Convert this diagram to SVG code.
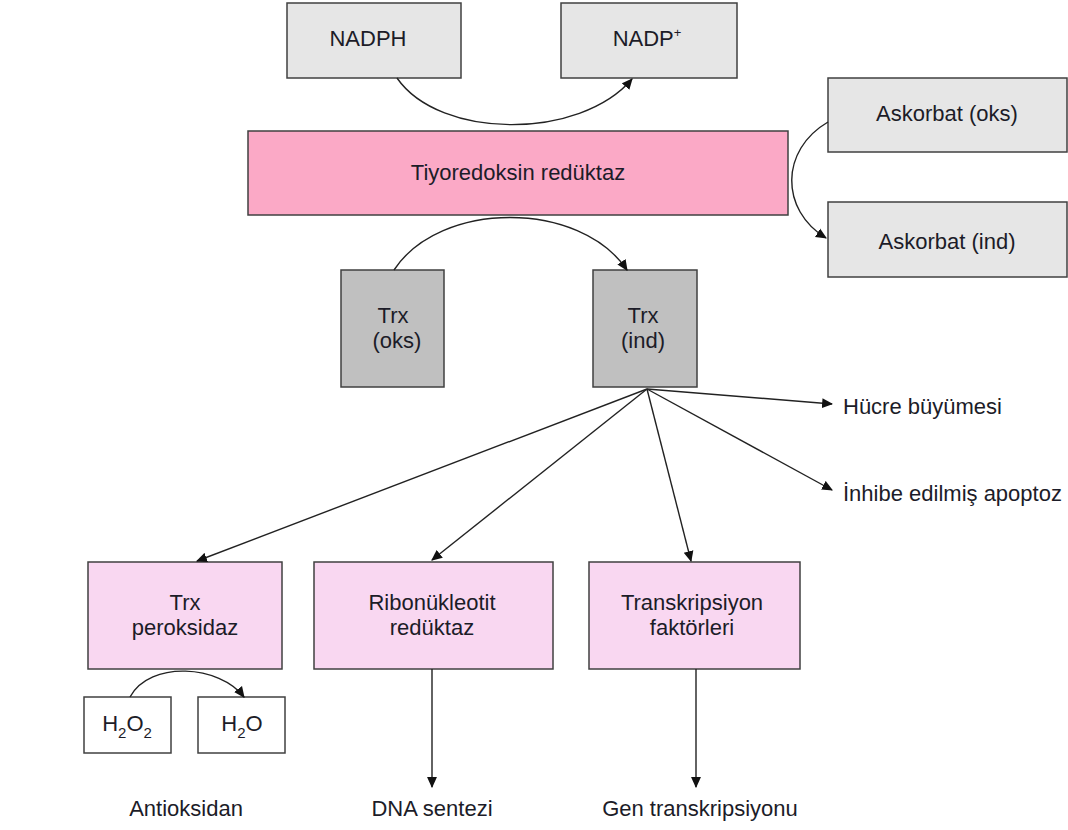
<svg xmlns="http://www.w3.org/2000/svg" width="1068" height="830" viewBox="0 0 1068 830">
<style>
text{font-family:"Liberation Sans",Arial,sans-serif;font-size:22px;fill:#1c1c28;text-anchor:middle}
.lbl{text-anchor:start}
.box{stroke:#404040;stroke-width:1.5}
.g1{fill:#e6e6e6}.g2{fill:#c0c0c0}.pk{fill:#fba9c6}.lp{fill:#f9d7f1}.wh{fill:#fff}
.c{fill:none;stroke:#222;stroke-width:1.4;marker-end:url(#ah)}
.sb{font-size:15px}
</style>
<defs>
<marker id="ah" viewBox="0 0 10 10" refX="9" refY="5" markerWidth="11" markerHeight="11" markerUnits="userSpaceOnUse" orient="auto">
<path d="M0,0.5 L10,5 L0,9.5 Z" fill="#111"/>
</marker>
</defs>
<rect width="1068" height="830" fill="#fff"/>
<g id="nadph"><rect class="box g1" x="287" y="3" width="174" height="75"/><text x="368" y="46">NADPH</text></g>
<g id="nadp"><rect class="box g1" x="561" y="3" width="176" height="75"/><text x="647" y="46">NADP<tspan font-size="13" dy="-9">+</tspan></text></g>
<g id="tr"><rect class="box pk" x="248" y="131" width="540" height="84"/><text x="518" y="180">Tiyoredoksin redüktaz</text></g>
<g id="askoks"><rect class="box g1" x="828" y="78" width="239" height="74"/><text x="947" y="121">Askorbat (oks)</text></g>
<g id="askind"><rect class="box g1" x="828" y="202" width="239" height="75"/><text x="947" y="249">Askorbat (ind)</text></g>
<g id="trxoks"><rect class="box g2" x="341" y="270" width="103" height="117"/><text x="393" y="323">Trx</text><text x="397" y="348">(oks)</text></g>
<g id="trxind"><rect class="box g2" x="593" y="270" width="104" height="117"/><text x="643" y="323">Trx</text><text x="643" y="348">(ind)</text></g>
<g id="hucre"><text class="lbl" x="843" y="414">Hücre büyümesi</text></g>
<g id="inhibe"><text class="lbl" x="843" y="501">İnhibe edilmiş apoptoz</text></g>
<g id="trxper"><rect class="box lp" x="88" y="562" width="194" height="107"/><text x="185" y="610">Trx</text><text x="185" y="635">peroksidaz</text></g>
<g id="ribo"><rect class="box lp" x="314" y="562" width="239" height="107"/><text x="432" y="610">Ribonükleotit</text><text x="432" y="635">redüktaz</text></g>
<g id="trans"><rect class="box lp" x="589" y="562" width="211" height="107"/><text x="692" y="610">Transkripsiyon</text><text x="692" y="635">faktörleri</text></g>
<g id="h2o2"><rect class="box wh" x="84" y="697" width="87" height="56"/><text x="127" y="731">H<tspan class="sb" dy="7">2</tspan><tspan dy="-7">O</tspan><tspan class="sb" dy="7">2</tspan></text></g>
<g id="h2o"><rect class="box wh" x="198" y="697" width="87" height="56"/><text x="242" y="731">H<tspan class="sb" dy="7">2</tspan><tspan dy="-7">O</tspan></text></g>
<g id="antiok"><text x="186" y="816">Antioksidan</text></g>
<g id="dna"><text x="432" y="816">DNA sentezi</text></g>
<g id="gen"><text x="700" y="816">Gen transkripsiyonu</text></g>
<g id="connectors">
<path class="c" d="M397,78 C440,140 580,140 632,79"/>
<path class="c" d="M828,122 C780,150 780,210 826,238"/>
<path class="c" d="M394,270 C440,200 580,200 627,270"/>
<path class="c" d="M647,389 L832,404"/>
<path class="c" d="M647,389 L832,490"/>
<path class="c" d="M647,389 L197,561"/>
<path class="c" d="M647,389 L432,560"/>
<path class="c" d="M647,389 L691,561"/>
<path class="c" d="M432,669 L432,787"/>
<path class="c" d="M696,669 L696,787"/>
<path class="c" d="M130,697 C150,660 220,665 244,697"/>
</g>
</svg>
